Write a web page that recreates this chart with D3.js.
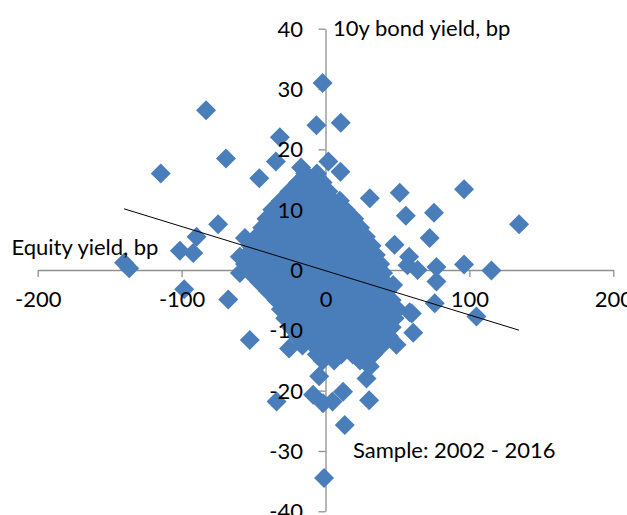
<!DOCTYPE html>
<html>
<head>
<meta charset="utf-8">
<script src="https://cdn.jsdelivr.net/npm/d3@7"></script>
<style>
  body { margin: 0; background: #fff; }
  text { font-family: Lato, sans-serif; font-size: 22px; fill: #000; }
</style>
</head>
<body>
<script>
const xTicks = [-200, -100, 0, 100, 200];
const yTicks = [-40, -30, -20, -10, 0, 10, 20, 30, 40];

// [equity yield change, bond yield change] in bp - scattered points away from the cluster
const outerPoints = [
  [-2, 31], [-6.3, 24], [10.6, 24.4], [-83, 26.5], [-31.7, 22], [-69.2, 18.5], [-34.5, 18],
  [-114.5, 16], [-46, 15.2], [-17, 17], [2, 18], [10.4, 16.3], [30.8, 11.9], [51.6, 12.8],
  [96.3, 13.4], [55.8, 9], [75.4, 9.5], [134.5, 7.6], [72.4, 5.3], [48, 4.2], [-74.6, 7.6],
  [-56, 5.3], [-89.6, 5.5], [-101.2, 3.2], [-91.9, 2.8], [-140, 1.2], [-136.4, 0.3],
  [-59.5, 2.2], [-59.5, -0.5], [58.1, 2.2], [57, 0.8], [64, 0], [77.1, 0.5], [96.3, 0.9],
  [115.3, -0.1], [77.1, -1.9], [47, -2.5], [75.9, -5.5], [104.9, -7.7], [60, -7.2],
  [-98.2, -3.2], [-67.6, -4.9], [-52.6, -11.6], [-25.3, -13], [-4.4, -17.6], [-8.6, -20.7],
  [-1.7, -22.1], [4.9, -21.8], [12.2, -20.2], [-34, -21.8], [30.3, -21.6], [13.4, -25.7],
  [-1, -34.5], [28.5, -18], [30.8, -16], [49.3, -12.4], [61, -10.4], [58.5, -7]
];

// dense cluster round the origin
const corePoints = [
  [-14, 16], [-6, 16],
  [-19, 14.5], [-10, 14.5], [-2, 14.5],
  [-25, 13], [-16, 13], [-7, 13], [2, 13],
  [-31, 11.5], [-22, 11.5], [-13, 11.5], [-4, 11.5], [5, 11.5], [10, 11.5],
  [-37, 10], [-28, 10], [-19, 10], [-10, 10], [-1, 10], [7, 10], [14, 10],
  [-41, 8.5], [-33, 8.5], [-24, 8.5], [-15, 8.5], [-6, 8.5], [3, 8.5], [12, 8.5], [20, 8.5],
  [-44, 7], [-37, 7], [-28, 7], [-19, 7], [-10, 7], [-2, 7], [7, 7], [16, 7], [24, 7],
  [-48, 5.5], [-41, 5.5], [-32, 5.5], [-23, 5.5], [-14, 5.5], [-5, 5.5], [4, 5.5], [13, 5.5], [21, 5.5], [28, 5.5],
  [-52, 4], [-44, 4], [-36, 4], [-27, 4], [-18, 4], [-9, 4], [0, 4], [9, 4], [17, 4], [25, 4], [32, 4],
  [-55, 2.5], [-48, 2.5], [-40, 2.5], [-31, 2.5], [-22, 2.5], [-13, 2.5], [-4, 2.5], [5, 2.5], [13, 2.5], [21, 2.5], [29, 2.5], [35, 2.5],
  [-56, 1], [-51, 1], [-43, 1], [-35, 1], [-26, 1], [-17, 1], [-8, 1], [1, 1], [9, 1], [17, 1], [25, 1], [32, 1], [38, 1],
  [-52, -0.5], [-46, -0.5], [-38, -0.5], [-29, -0.5], [-20, -0.5], [-11, -0.5], [-3, -0.5], [6, -0.5], [14, -0.5], [22, -0.5], [30, -0.5], [37, -0.5], [40, -0.5],
  [-46, -2], [-41, -2], [-33, -2], [-24, -2], [-15, -2], [-7, -2], [2, -2], [10, -2], [18, -2], [26, -2], [33, -2], [41, -2],
  [-40, -3.5], [-36, -3.5], [-28, -3.5], [-19, -3.5], [-10, -3.5], [-2, -3.5], [6, -3.5], [14, -3.5], [22, -3.5], [30, -3.5], [37, -3.5], [43, -3.5],
  [-34, -5], [-31, -5], [-23, -5], [-14, -5], [-6, -5], [3, -5], [11, -5], [19, -5], [27, -5], [34, -5], [41, -5], [46, -5],
  [-31, -6.5], [-26, -6.5], [-18, -6.5], [-9, -6.5], [-1, -6.5], [8, -6.5], [16, -6.5], [24, -6.5], [32, -6.5], [39, -6.5], [45, -6.5], [50, -6.5],
  [-28, -8], [-21, -8], [-13, -8], [-5, -8], [4, -8], [12, -8], [20, -8], [28, -8], [36, -8], [43, -8], [48, -8],
  [-24, -9.5], [-17, -9.5], [-8, -9.5], [0, -9.5], [8, -9.5], [17, -9.5], [25, -9.5], [33, -9.5], [40, -9.5], [46, -9.5],
  [-20, -11], [-12, -11], [-4, -11], [5, -11], [13, -11], [21, -11], [29, -11], [37, -11], [44, -11],
  [-16, -12.5], [-8, -12.5], [1, -12.5], [9, -12.5], [17, -12.5], [24, -12.5], [32, -12.5], [39, -12.5],
  [-6, -14], [3, -14], [11, -14], [19, -14], [26, -14], [33, -14],
  [-2, -15], [6, -15], [24, -15]
];

// linear trend
const trendSlope = -0.0733;
const trendIntercept = -0.12;

const allPoints = outerPoints.concat(corePoints);

const W = 627, H = 515;
const svg = d3.select("body").append("svg")
  .attr("width", W)
  .attr("height", H);

const x = d3.scaleLinear().domain([-200, 200]).range([37.7, 613.3]);
const y = d3.scaleLinear().domain([-40, 40]).range([511.3, 28.7]);

// axis lines and ticks go under the markers
svg.append("g")
  .attr("transform", `translate(0,${y(0)})`)
  .call(d3.axisBottom(x).tickValues(xTicks).tickSize(7).tickSizeOuter(0).tickFormat(""));
svg.append("g")
  .attr("transform", `translate(${x(0)},0)`)
  .call(d3.axisLeft(y).tickValues(yTicks).tickSize(7).tickSizeOuter(0).tickFormat(""));
svg.selectAll(".domain, .tick line")
  .attr("stroke", "#8f8f8f")
  .attr("stroke-width", 1.3);

// markers
const diamond = "M0,-10L10,0L0,10L-10,0Z";
svg.append("g")
  .selectAll("path")
  .data(allPoints)
  .join("path")
  .attr("d", diamond)
  .attr("transform", d => `translate(${x(d[0])},${y(d[1])})`)
  .attr("fill", "#4A7EBB");

// trend line over the data range
const xExt = d3.extent(allPoints, d => d[0]);
svg.append("line")
  .attr("x1", x(xExt[0]))
  .attr("y1", y(trendIntercept + trendSlope * xExt[0]))
  .attr("x2", x(xExt[1]))
  .attr("y2", y(trendIntercept + trendSlope * xExt[1]))
  .attr("stroke", "#000")
  .attr("stroke-width", 1);

// tick labels on top
const xLab = svg.append("g")
  .attr("transform", `translate(0,${y(0)})`)
  .call(d3.axisBottom(x).tickValues(xTicks).tickSize(0).tickFormat(d => String(d)));
xLab.select(".domain").remove();
xLab.selectAll("text")
  .attr("y", 36.5)
  .attr("dy", null)
  .attr("font-size", null)
  .attr("font-family", null);

const yLab = svg.append("g")
  .attr("transform", `translate(${x(0)},0)`)
  .call(d3.axisLeft(y).tickValues(yTicks).tickSize(0).tickFormat(d => String(d)));
yLab.select(".domain").remove();
yLab.selectAll("text")
  .attr("x", -22.5)
  .attr("y", 7.5)
  .attr("dy", null)
  .attr("font-size", null)
  .attr("font-family", null);

svg.append("text").attr("x", 333).attr("y", 36).text("10y bond yield, bp");
svg.append("text").attr("x", 11.5).attr("y", 255).text("Equity yield, bp");
svg.append("text").attr("x", 353).attr("y", 457.5).text("Sample: 2002 - 2016");
</script>
</body>
</html>
